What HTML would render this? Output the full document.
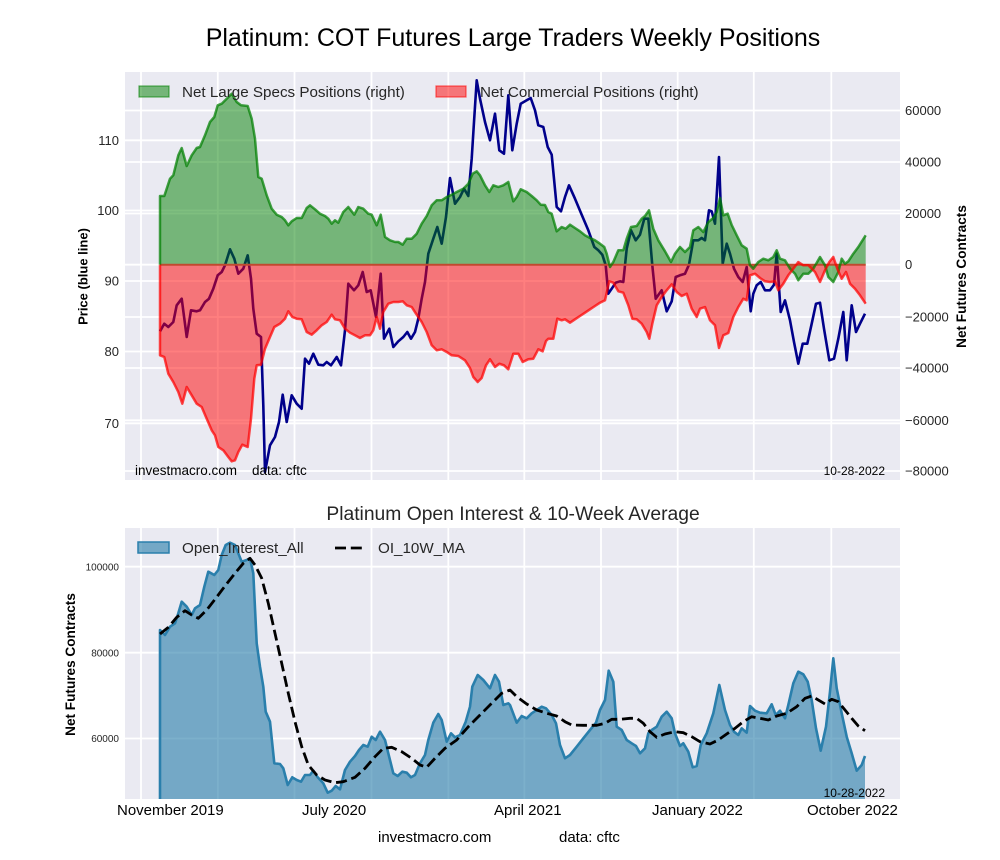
<!DOCTYPE html>
<html>
<head>
<meta charset="utf-8">
<style>
html,body{margin:0;padding:0;background:#fff;}
svg{display:block;font-family:"Liberation Sans",Arial,sans-serif;}
</style>
</head>
<body>
<svg width="1000" height="860" viewBox="0 0 1000 860" xmlns="http://www.w3.org/2000/svg">
<rect x="0" y="0" width="1000" height="860" fill="#ffffff"/>

<!-- Title -->
<text x="513" y="46" font-size="25" text-anchor="middle" fill="#000">Platinum: COT Futures Large Traders Weekly Positions</text>

<!-- ===== TOP AXES ===== -->
<defs>
<clipPath id="topclip"><rect x="125" y="72" width="775" height="408"/></clipPath>
<clipPath id="botclip"><rect x="125" y="528" width="775" height="271"/></clipPath>
</defs>
<rect x="125" y="72" width="775" height="408" fill="#eaeaf2"/>
<g stroke="#ffffff" stroke-width="1.8">
<line x1="125" x2="900" y1="110.5" y2="110.5"/>
<line x1="125" x2="900" y1="140.3" y2="140.3"/>
<line x1="125" x2="900" y1="162" y2="162"/>
<line x1="125" x2="900" y1="210.5" y2="210.5"/>
<line x1="125" x2="900" y1="213.5" y2="213.5"/>
<line x1="125" x2="900" y1="264.7" y2="264.7"/>
<line x1="125" x2="900" y1="281" y2="281"/>
<line x1="125" x2="900" y1="317" y2="317"/>
<line x1="125" x2="900" y1="351.5" y2="351.5"/>
<line x1="125" x2="900" y1="368" y2="368"/>
<line x1="125" x2="900" y1="420.3" y2="420.3"/>
<line x1="125" x2="900" y1="423.3" y2="423.3"/>
<line x1="125" x2="900" y1="471" y2="471"/>
<line y1="72" y2="480" x1="141" x2="141"/>
<line y1="72" y2="480" x1="217.8" x2="217.8"/>
<line y1="72" y2="480" x1="294.5" x2="294.5"/>
<line y1="72" y2="480" x1="371.5" x2="371.5"/>
<line y1="72" y2="480" x1="448.3" x2="448.3"/>
<line y1="72" y2="480" x1="524.3" x2="524.3"/>
<line y1="72" y2="480" x1="601" x2="601"/>
<line y1="72" y2="480" x1="677.7" x2="677.7"/>
<line y1="72" y2="480" x1="753.8" x2="753.8"/>
<line y1="72" y2="480" x1="831.3" x2="831.3"/>
</g>

<g clip-path="url(#topclip)">
<!-- price line (drawn below fills) -->
<polyline fill="none" stroke="#00008b" stroke-width="2.6" stroke-linejoin="round" points="160,331.3 164.3,323.7 168.3,327 173.3,322 176.7,305.3 181.7,298.7 186.7,337 191,310.3 196.7,311.3 200,310.3 205,302 209,298.7 213.3,288.7 217.7,275.3 221.7,272 225,265.3 230,249.3 234.3,258.7 238.3,273.7 243.3,268.7 247.7,255.3 251,278.7 253.3,308.7 256.7,333.7 261,337 263.3,405.3 265,472 270,445.3 275,437 279,422 282.7,394.7 286.7,422 291.7,395.3 296.7,403.7 301.7,408.7 305,358.7 309,363.7 313.3,353.7 318.3,364.7 323.3,365.3 326.7,362 331,365.3 336.7,357 341,365.3 345,330.3 348.3,283.7 354,290.3 358.3,285.3 362.7,272 366.7,292 370.7,290.3 376,317 380.7,273.7 384,338.7 389.3,328.7 393.3,347 398.3,341.3 403.3,337 407.3,332 411,338.7 415,332 418.3,318.7 421.7,298.7 425,282 428.3,253.7 433.3,238.7 437.3,227 441.7,243.7 446,217 450,178 455,203.7 460,197 464,188.7 468.3,196 471.7,158.7 474,122 476.7,80.3 480,98.7 485,122 490,140.3 495,113.7 499.3,150.3 504,153.7 508.3,95.3 512.3,150.3 516.7,123.7 520.7,103.7 526.7,100.3 530.7,98 535,110.3 538.3,125.3 543.3,127 547.7,147 551.7,154.7 556.7,207 561,211.3 565,197 569,185.3 575,198.7 581.7,214.7 588.3,230.3 594.3,247 598.3,250.3 602.3,254.7 605.7,265.3 608.3,293.7 611.7,288.7 615.7,282.7 620,281.3 623.3,282 626.7,248.7 631,230.3 635.7,240.3 640,234.7 644.3,218.7 648.3,218.7 652.3,265.3 655.7,298.7 661.7,290.3 666.7,311.3 671.7,301.3 675.7,277 680,275.3 685,273.7 689,264.7 693.3,240.3 698.3,240.3 701.7,238 705,240.3 709,210.3 711.7,211.3 715,223.7 719,157 722.7,263.7 726.7,243.7 730,253.7 734,268.7 738.3,277 742.7,282 746.7,267 750.7,311.3 753.3,293.7 756.7,285.3 760.7,282 765,290.3 770,290.3 774,284.7 776.7,253.7 780.7,312 785,300.3 790,320.3 794,342 798.3,363.7 802.7,343.7 807.3,343.7 811.7,323.7 816,303.7 820,302.7 824,328.7 829.3,360.3 834,358.7 838.3,338.7 843.3,312 846.7,360.3 851.7,305.3 856,332 860,323.7 865,313.7"/>

<!-- green fill -->
<polygon fill="#008000" fill-opacity="0.5" points="160,264.7 160,196 164.3,196 170,178.7 173.3,175.3 178.3,155.3 181.7,148 186.7,166 191.7,155.3 196.7,148 200,147 205,135.3 210,122 214.3,117 217.7,105.3 221.7,103.7 226.7,98.7 231.7,93.7 236.7,102 241,105.3 247.7,106 251.7,118.7 255,138.7 258.3,177 261.7,178.7 266.7,195.3 271.7,208.7 276.7,214.7 281.7,217 285,220.3 288.3,225.3 291.7,221.3 296.7,218 301.7,218 306.7,208 310,205.3 315,209.3 320,213.7 325,216 328.3,218.7 331.7,223.7 335,220.3 338.3,222.7 343.3,212 348.3,207 354.3,214.7 358.3,207 363.3,208.7 368.3,213.7 371.7,214.7 376.7,225.3 380.7,214.7 385,237 390,240.3 395,242 398.3,242 402.7,244.7 406.7,238.7 411.7,238.7 416.7,233.7 421.7,223.7 426.7,216 431.7,205.3 436.7,200.3 441.7,200.3 446.7,197 451.7,194.7 456.7,192 463.3,188.7 468.3,183.7 472.7,173.7 476.7,171.3 480,175.3 485,185.3 489.3,192 493.3,185.3 498.3,187 503.3,185.3 508.3,182 513.3,201.3 516.7,197 520.7,189.3 526.7,192 531.7,196 536.7,200.3 540.7,204.7 545,205 548.3,212 551.7,213.7 556.7,231.3 561.7,227 565.7,228.7 570,224.7 575,228 580,231.3 585,235.3 590,238 595,240.3 600,243.7 604.3,247 606.7,253.7 610,267 613.3,262 618.3,250.3 623.3,250.3 626.7,238.7 631,227 636.7,226 641.7,218.7 645,216 649,210.3 653.3,228.7 658.3,240.3 665,251.3 671,262 675,253.7 680,247 685,252 690,247 693.3,230.3 698.3,227 703.3,232 708.3,222 713.3,218 716.7,212 720,198 723.3,215.3 727.7,213.7 731.7,225 736.7,235.3 741.7,245.3 746.7,248.7 750,265.3 753.3,268.7 758.3,262 763.3,258.7 768.3,260.3 773.3,257 776.7,250.3 780,258.7 785,260.3 790,268.7 795,273.7 798.3,280.3 803.3,273.7 808.3,273.7 813.3,268.7 820,257 825,265.3 828.3,277 833.3,282 838.3,272 841.7,258.7 845,263.7 848.3,261.3 853.3,253.7 858.3,247 865.7,235.3 865.7,264.7"/>

<!-- red fill -->
<polygon fill="#ff0000" fill-opacity="0.5" points="160,264.7 160,355.3 164.3,357 168.3,373.7 173.3,382 178.3,392 182.3,403.7 186.7,387 191.7,395.3 196.7,403.7 201.7,407 206.7,418.7 211.7,430.3 215,435.3 218.3,447 223.3,450.3 228.3,457 231.7,461.3 235,460.3 238.3,452 242.3,444.7 247.7,447 251,418.7 254.3,378.7 256.7,365.3 261,364.7 265,348.7 270,337 274.3,327 280,323.7 285,318.7 288.3,311.3 292.3,317 296.7,318.7 301.7,319.3 306.7,332 311.7,334.7 316.7,330.3 321.7,325.3 326.7,322 331.7,314.7 335,319.3 340,320.3 345,328.7 350,332.7 355,335.3 360,338 365,335.3 370,335.3 373.3,330.3 376.7,317 380,328.7 383.3,312 388.3,303.7 393.3,302 398.3,302 402.7,301.3 406.7,305.3 411.7,307 416,313.7 421.7,322 426.7,332 431.7,345.3 436.7,350.3 441.7,349.3 446.7,352 451.7,355.3 458.3,356 465,360.3 470,368 473.3,377 477.7,382 481.7,378 486,365.3 490,359.3 495,367 499.3,363.7 504,365.3 508.3,369.3 513.3,353.7 518.3,353.7 522.7,362 528.3,359.3 533.3,358.7 538.3,349.3 542.7,351.3 546,341 548.3,338.7 553.3,338.7 557.3,318.7 561.7,320.3 565,319.3 570,322.7 575,319.3 580,316 585,312.7 590,309.3 595,306 600,302.7 605,300.3 609.3,281.3 613.3,282.7 618.3,291.3 623.3,292.7 628.3,305.3 632.3,318.7 636.7,319.3 641.7,323.7 646.7,332 649.3,338.7 652.3,323.7 656.7,305.3 661.7,297 666.7,290.3 671.7,284.3 676.7,292 681.7,296 686.7,293.7 691.7,308.7 696.7,317 700,308.7 705,307 710,320.3 715,325.3 719,348 723.3,335.3 728.3,333 733.3,317 738.3,307 743.3,298.7 746.7,300.3 750,275.3 755,273.7 760,278 765,281.3 770,282 775,281.3 778.3,290.3 783.3,283.7 788.3,275.3 793.3,268.7 798.3,262 803.3,265.3 808.3,265.3 815,272 820,282 825,270.3 829.3,262 833.3,257 837.3,268.7 841.7,278.7 846,272 850,283.7 855,288.7 860,295.3 865.7,303.7 865.7,264.7"/>

<!-- zero edge line -->
<line x1="160" x2="865.7" y1="264.7" y2="264.7" stroke="#c04a30" stroke-width="2"/>

<!-- green line -->
<polyline fill="none" stroke="#008000" stroke-opacity="0.72" stroke-width="2.5" stroke-linejoin="round" points="160,264.7 160,196 164.3,196 170,178.7 173.3,175.3 178.3,155.3 181.7,148 186.7,166 191.7,155.3 196.7,148 200,147 205,135.3 210,122 214.3,117 217.7,105.3 221.7,103.7 226.7,98.7 231.7,93.7 236.7,102 241,105.3 247.7,106 251.7,118.7 255,138.7 258.3,177 261.7,178.7 266.7,195.3 271.7,208.7 276.7,214.7 281.7,217 285,220.3 288.3,225.3 291.7,221.3 296.7,218 301.7,218 306.7,208 310,205.3 315,209.3 320,213.7 325,216 328.3,218.7 331.7,223.7 335,220.3 338.3,222.7 343.3,212 348.3,207 354.3,214.7 358.3,207 363.3,208.7 368.3,213.7 371.7,214.7 376.7,225.3 380.7,214.7 385,237 390,240.3 395,242 398.3,242 402.7,244.7 406.7,238.7 411.7,238.7 416.7,233.7 421.7,223.7 426.7,216 431.7,205.3 436.7,200.3 441.7,200.3 446.7,197 451.7,194.7 456.7,192 463.3,188.7 468.3,183.7 472.7,173.7 476.7,171.3 480,175.3 485,185.3 489.3,192 493.3,185.3 498.3,187 503.3,185.3 508.3,182 513.3,201.3 516.7,197 520.7,189.3 526.7,192 531.7,196 536.7,200.3 540.7,204.7 545,205 548.3,212 551.7,213.7 556.7,231.3 561.7,227 565.7,228.7 570,224.7 575,228 580,231.3 585,235.3 590,238 595,240.3 600,243.7 604.3,247 606.7,253.7 610,267 613.3,262 618.3,250.3 623.3,250.3 626.7,238.7 631,227 636.7,226 641.7,218.7 645,216 649,210.3 653.3,228.7 658.3,240.3 665,251.3 671,262 675,253.7 680,247 685,252 690,247 693.3,230.3 698.3,227 703.3,232 708.3,222 713.3,218 716.7,212 720,198 723.3,215.3 727.7,213.7 731.7,225 736.7,235.3 741.7,245.3 746.7,248.7 750,265.3 753.3,268.7 758.3,262 763.3,258.7 768.3,260.3 773.3,257 776.7,250.3 780,258.7 785,260.3 790,268.7 795,273.7 798.3,280.3 803.3,273.7 808.3,273.7 813.3,268.7 820,257 825,265.3 828.3,277 833.3,282 838.3,272 841.7,258.7 845,263.7 848.3,261.3 853.3,253.7 858.3,247 865.7,235.3"/>

<!-- red line -->
<polyline fill="none" stroke="#ff0000" stroke-opacity="0.72" stroke-width="2.5" stroke-linejoin="round" points="160,264.7 160,355.3 164.3,357 168.3,373.7 173.3,382 178.3,392 182.3,403.7 186.7,387 191.7,395.3 196.7,403.7 201.7,407 206.7,418.7 211.7,430.3 215,435.3 218.3,447 223.3,450.3 228.3,457 231.7,461.3 235,460.3 238.3,452 242.3,444.7 247.7,447 251,418.7 254.3,378.7 256.7,365.3 261,364.7 265,348.7 270,337 274.3,327 280,323.7 285,318.7 288.3,311.3 292.3,317 296.7,318.7 301.7,319.3 306.7,332 311.7,334.7 316.7,330.3 321.7,325.3 326.7,322 331.7,314.7 335,319.3 340,320.3 345,328.7 350,332.7 355,335.3 360,338 365,335.3 370,335.3 373.3,330.3 376.7,317 380,328.7 383.3,312 388.3,303.7 393.3,302 398.3,302 402.7,301.3 406.7,305.3 411.7,307 416,313.7 421.7,322 426.7,332 431.7,345.3 436.7,350.3 441.7,349.3 446.7,352 451.7,355.3 458.3,356 465,360.3 470,368 473.3,377 477.7,382 481.7,378 486,365.3 490,359.3 495,367 499.3,363.7 504,365.3 508.3,369.3 513.3,353.7 518.3,353.7 522.7,362 528.3,359.3 533.3,358.7 538.3,349.3 542.7,351.3 546,341 548.3,338.7 553.3,338.7 557.3,318.7 561.7,320.3 565,319.3 570,322.7 575,319.3 580,316 585,312.7 590,309.3 595,306 600,302.7 605,300.3 609.3,281.3 613.3,282.7 618.3,291.3 623.3,292.7 628.3,305.3 632.3,318.7 636.7,319.3 641.7,323.7 646.7,332 649.3,338.7 652.3,323.7 656.7,305.3 661.7,297 666.7,290.3 671.7,284.3 676.7,292 681.7,296 686.7,293.7 691.7,308.7 696.7,317 700,308.7 705,307 710,320.3 715,325.3 719,348 723.3,335.3 728.3,333 733.3,317 738.3,307 743.3,298.7 746.7,300.3 750,275.3 755,273.7 760,278 765,281.3 770,282 775,281.3 778.3,290.3 783.3,283.7 788.3,275.3 793.3,268.7 798.3,262 803.3,265.3 808.3,265.3 815,272 820,282 825,270.3 829.3,262 833.3,257 837.3,268.7 841.7,278.7 846,272 850,283.7 855,288.7 860,295.3 865.7,303.7"/>
</g>

<!-- top legend -->
<rect x="139" y="86" width="30" height="11" fill="#008000" fill-opacity="0.5" stroke="#008000" stroke-opacity="0.6" stroke-width="1.2"/>
<text x="182" y="97" font-size="15.2" fill="#262626">Net Large Specs Positions (right)</text>
<rect x="436" y="86" width="30" height="11" fill="#ff0000" fill-opacity="0.5" stroke="#ff0000" stroke-opacity="0.6" stroke-width="1.2"/>
<text x="480" y="97" font-size="15.2" fill="#262626">Net Commercial Positions (right)</text>

<!-- top annotations -->
<text x="135" y="475" font-size="13.5" fill="#000">investmacro.com</text>
<text x="252" y="475" font-size="13.5" fill="#000">data: cftc</text>
<text x="885" y="475" font-size="12" fill="#000" text-anchor="end">10-28-2022</text>

<!-- left ticks -->
<g font-size="13" fill="#262626" text-anchor="end">
<text x="119" y="144.8">110</text>
<text x="119" y="215">100</text>
<text x="119" y="285.5">90</text>
<text x="119" y="356">80</text>
<text x="119" y="427.8">70</text>
</g>
<!-- right ticks -->
<g font-size="13" fill="#262626">
<text x="905" y="115">60000</text>
<text x="905" y="166.5">40000</text>
<text x="905" y="218">20000</text>
<text x="905" y="269.2">0</text>
<text x="905" y="321.5">−20000</text>
<text x="905" y="372.5">−40000</text>
<text x="905" y="424.8">−60000</text>
<text x="905" y="475.5">−80000</text>
</g>
<text transform="translate(87.5,276.5) rotate(-90)" font-size="13" font-weight="bold" text-anchor="middle" fill="#000">Price (blue line)</text>
<text transform="translate(966,276.5) rotate(-90)" font-size="13.6" font-weight="bold" text-anchor="middle" fill="#000">Net Futures Contracts</text>

<!-- ===== BOTTOM AXES ===== -->
<text x="513" y="520" font-size="19.3" text-anchor="middle" fill="#262626">Platinum Open Interest &amp; 10-Week Average</text>
<rect x="125" y="528" width="775" height="271" fill="#eaeaf2"/>
<g stroke="#ffffff" stroke-width="1.8">
<line x1="125" x2="900" y1="566.7" y2="566.7"/>
<line x1="125" x2="900" y1="652.7" y2="652.7"/>
<line x1="125" x2="900" y1="738.5" y2="738.5"/>
<line y1="528" y2="799" x1="141" x2="141"/>
<line y1="528" y2="799" x1="217.8" x2="217.8"/>
<line y1="528" y2="799" x1="294.5" x2="294.5"/>
<line y1="528" y2="799" x1="371.5" x2="371.5"/>
<line y1="528" y2="799" x1="448.3" x2="448.3"/>
<line y1="528" y2="799" x1="524.3" x2="524.3"/>
<line y1="528" y2="799" x1="601" x2="601"/>
<line y1="528" y2="799" x1="677.7" x2="677.7"/>
<line y1="528" y2="799" x1="753.8" x2="753.8"/>
<line y1="528" y2="799" x1="831.3" x2="831.3"/>
</g>
<g clip-path="url(#botclip)">
<polygon fill="#247ca9" fill-opacity="0.6" points="160,800 160,630 165,635 170,626.7 175,623.3 178.3,613.3 181.7,601.7 186.7,606.7 191.7,615 195,608.3 200,605 204.3,586.7 208.3,571.7 214.3,575 218.3,570 221.7,555 225.7,545 230,542.7 235,545 238.3,553.3 241.7,561.7 246.7,560 250,558.3 253.3,573.3 256.7,643.3 260,666.7 263.3,686.7 265.7,711.7 270,721.7 274.3,763.3 280,764 283.3,768.3 287.7,785 292.3,777.3 296.7,780 301,781.7 305,775 310,775 313.3,770.7 317.7,777.3 323.3,783.3 327.7,792.7 331.7,790.7 335.7,786 340,789.3 345,770 350,761.7 355,756 359,750 363.3,745 367.7,746.7 371.7,736.7 375.7,740 380,731.7 385,740 388.3,753.3 393.3,773.3 397.7,776 402.3,771.7 406.7,772.7 411,777.3 415,775 420,763.3 425,755 428.3,740 433.3,722.7 438.3,714 441.7,720 446.7,741.7 451,733.3 455,737.3 460,735 465.7,721.7 470,706.7 472.3,686.7 477.7,675 483.3,680 490,688.3 495,675 499,681.7 503.3,705 508.3,703.3 510,705 516.7,722.7 521.7,716 526.7,718.3 531.7,713.3 536.7,710 541.7,706.7 546,708.3 551.7,715 556,723.3 560,745 565,758.3 570,755 576.7,746.7 583.3,738.3 590,730 596,722.7 600,710 605,700 608.7,670.7 613.3,681.7 616.7,726.7 621.7,730 626.7,740 631.7,743.3 636,746 640,753.3 645,748.3 648.3,733.3 651.7,730 656.7,726.7 661.7,716.7 666.7,711.7 671.7,718.3 675,733.3 680,746 683.3,743.3 688.3,751.7 692.7,767.3 696.7,766 700.7,745 706.7,733.3 713.3,713.3 719.3,685 725,710 730,725 734,731.7 738.3,735 741.7,728.3 746.7,732.7 750,706 755,710.7 760,712.7 766.7,713.3 771.7,704.3 775.7,715 780,710.7 785,718.3 788.3,705 793.3,683.3 798.3,671.7 803.3,674.3 807.7,681.7 811.7,700 816,728.3 820.7,750.7 826,726.7 830,691.7 833.3,658.3 836.7,688.3 841.7,713.3 846.7,736.7 851.7,753.3 856.7,770.7 861.7,765 865,756 865,800"/>
<polyline fill="none" stroke="#2a7fac" stroke-width="2.6" stroke-linejoin="round" points="160,800 160,630 165,635 170,626.7 175,623.3 178.3,613.3 181.7,601.7 186.7,606.7 191.7,615 195,608.3 200,605 204.3,586.7 208.3,571.7 214.3,575 218.3,570 221.7,555 225.7,545 230,542.7 235,545 238.3,553.3 241.7,561.7 246.7,560 250,558.3 253.3,573.3 256.7,643.3 260,666.7 263.3,686.7 265.7,711.7 270,721.7 274.3,763.3 280,764 283.3,768.3 287.7,785 292.3,777.3 296.7,780 301,781.7 305,775 310,775 313.3,770.7 317.7,777.3 323.3,783.3 327.7,792.7 331.7,790.7 335.7,786 340,789.3 345,770 350,761.7 355,756 359,750 363.3,745 367.7,746.7 371.7,736.7 375.7,740 380,731.7 385,740 388.3,753.3 393.3,773.3 397.7,776 402.3,771.7 406.7,772.7 411,777.3 415,775 420,763.3 425,755 428.3,740 433.3,722.7 438.3,714 441.7,720 446.7,741.7 451,733.3 455,737.3 460,735 465.7,721.7 470,706.7 472.3,686.7 477.7,675 483.3,680 490,688.3 495,675 499,681.7 503.3,705 508.3,703.3 510,705 516.7,722.7 521.7,716 526.7,718.3 531.7,713.3 536.7,710 541.7,706.7 546,708.3 551.7,715 556,723.3 560,745 565,758.3 570,755 576.7,746.7 583.3,738.3 590,730 596,722.7 600,710 605,700 608.7,670.7 613.3,681.7 616.7,726.7 621.7,730 626.7,740 631.7,743.3 636,746 640,753.3 645,748.3 648.3,733.3 651.7,730 656.7,726.7 661.7,716.7 666.7,711.7 671.7,718.3 675,733.3 680,746 683.3,743.3 688.3,751.7 692.7,767.3 696.7,766 700.7,745 706.7,733.3 713.3,713.3 719.3,685 725,710 730,725 734,731.7 738.3,735 741.7,728.3 746.7,732.7 750,706 755,710.7 760,712.7 766.7,713.3 771.7,704.3 775.7,715 780,710.7 785,718.3 788.3,705 793.3,683.3 798.3,671.7 803.3,674.3 807.7,681.7 811.7,700 816,728.3 820.7,750.7 826,726.7 830,691.7 833.3,658.3 836.7,688.3 841.7,713.3 846.7,736.7 851.7,753.3 856.7,770.7 861.7,765 865,756"/>
<polyline fill="none" stroke="#000" stroke-width="2.8" stroke-dasharray="11 4.8" stroke-linejoin="round" points="160,634 168.3,627.3 176.7,617.3 185,610.7 191.7,615 198.3,618.3 206.7,610 215,599.3 225,586 235,573.3 243.3,563.3 250,558.3 255,565 261.7,578.3 268.3,603.3 275,633.3 281.7,663.3 288.3,693.3 295,721.7 301.7,746.7 308.3,765 316.7,775 325,780 335,782.7 343.3,781.7 355,777.3 365,768.3 375,756.7 383.3,748.3 391.7,747.3 401.7,751.7 411.7,758.3 420,765 426.7,767.3 435,758.3 445,748.3 456.7,740 468.3,726.7 480,715 491.7,703.3 501.7,693.3 510,690 516.7,696.7 526.7,704 536.7,710 546.7,713.3 556.7,716 565,721.7 571.7,725 583.3,725.3 596.7,725.3 605,723.3 611.7,719.3 620,719.3 630,718.3 636.7,718.3 643.3,723.3 650,731.7 656.7,737.3 665,734 675,731.7 683.3,732.7 691.7,736.7 700,741.7 710,744 718.3,740 726.7,734 735,728.3 743.3,721.7 751.7,716.7 760,718.3 768.3,720 776.7,716 786.7,713.3 796.7,706.7 805,698.3 811.7,696 818.3,700 825,704 831.7,699.3 838.3,701.7 845,710 851.7,718.3 858.3,726 865,730.7"/>
</g>

<!-- bottom legend -->
<rect x="138" y="542" width="31" height="11" fill="#247ca9" fill-opacity="0.6" stroke="#2a7fac" stroke-width="1.5"/>
<text x="182" y="553" font-size="15.2" fill="#262626">Open_Interest_All</text>
<line x1="335" x2="364" y1="548" y2="548" stroke="#000" stroke-width="2.8" stroke-dasharray="11 4.8"/>
<text x="378" y="553" font-size="15.2" fill="#262626">OI_10W_MA</text>

<text x="885" y="797" font-size="12" fill="#000" text-anchor="end">10-28-2022</text>

<!-- bottom y ticks -->
<g font-size="10" fill="#262626" text-anchor="end">
<text x="119" y="570.3">100000</text>
<text x="119" y="656.3">80000</text>
<text x="119" y="742">60000</text>
</g>
<text transform="translate(75,664.5) rotate(-90)" font-size="13.6" font-weight="bold" text-anchor="middle" fill="#000">Net Futures Contracts</text>

<!-- x ticks -->
<g font-size="15" fill="#000">
<text x="117" y="815">November 2019</text>
<text x="302" y="815">July 2020</text>
<text x="494" y="815">April 2021</text>
<text x="652" y="815">January 2022</text>
<text x="807" y="815">October 2022</text>
</g>

<!-- footer -->
<text x="378" y="842" font-size="15" fill="#000">investmacro.com</text>
<text x="559" y="842" font-size="15" fill="#000">data: cftc</text>
</svg>
</body>
</html>
